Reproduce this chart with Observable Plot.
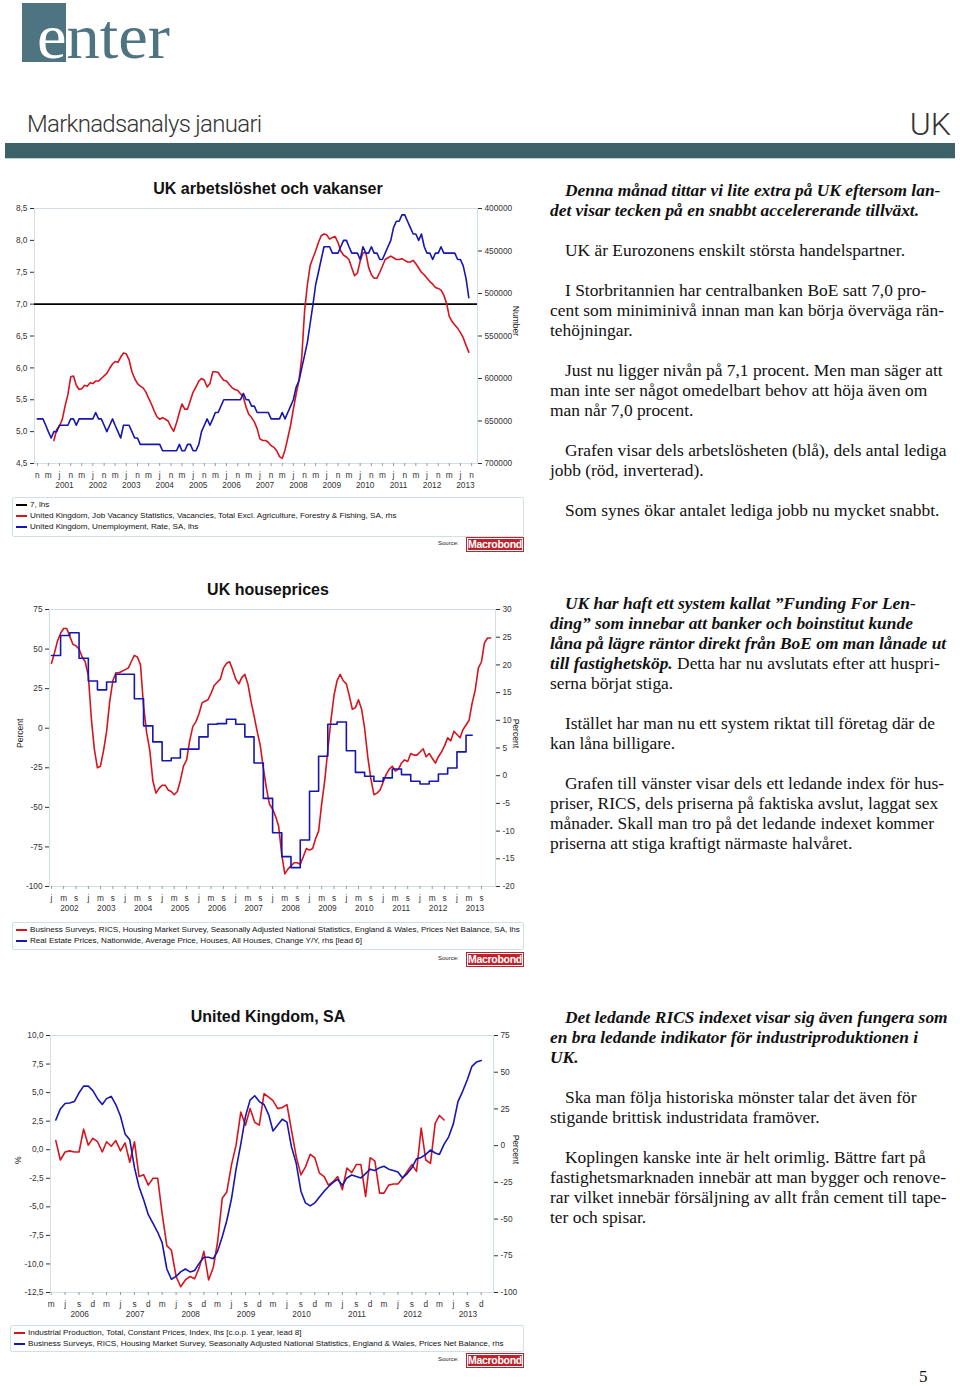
<!DOCTYPE html>
<html><head><meta charset="utf-8">
<script src="https://cdn.jsdelivr.net/npm/d3@7"></script>
<script src="https://cdn.jsdelivr.net/npm/@observablehq/plot@0.6"></script>
<style>
body{margin:0;width:960px;height:1386px;position:relative;background:#fff;overflow:hidden;font-family:Arial,"Liberation Sans",sans-serif;color:#111;}
.abs{position:absolute;}
.title{position:absolute;left:0;width:536px;text-align:center;font:bold 16px Arial,"Liberation Sans",sans-serif;color:#111;z-index:3;white-space:nowrap;}
.txt{position:absolute;left:550px;width:410px;font-family:"Liberation Serif","Times New Roman",serif;font-size:17.4px;line-height:20px;color:#111;white-space:nowrap;}
.txt p{margin:0 0 20px 0;text-indent:15px;}
.bi{font-weight:bold;font-style:italic;}
.leg{position:absolute;border:1px solid #cfe1e6;border-radius:2px;background:#fff;font-family:Arial,"Liberation Sans",sans-serif;font-size:8.1px;color:#111;}
.leg div{height:11px;line-height:11px;white-space:nowrap;padding-left:17px;position:relative;}
.leg div span{position:absolute;left:3px;top:5px;width:11px;height:2px;}
.src{position:absolute;font-size:6px;color:#222;font-family:Arial,"Liberation Sans",sans-serif;}
.mb{position:absolute;width:56px;height:13px;background:#c0222b;color:#fff;font-family:Arial,"Liberation Sans",sans-serif;font-weight:bold;font-size:10.5px;letter-spacing:-0.3px;line-height:13px;text-align:center;box-shadow:inset 0 0 0 1px #fff;outline:1px solid #c0222b;white-space:nowrap;}
.chart{position:absolute;left:0;}
</style></head><body>

<!-- header -->
<div class="abs" style="left:22px;top:3px;width:44px;height:59px;background:#4e7482;"></div>
<div class="abs" style="left:37px;top:1px;font-family:'Liberation Serif','Times New Roman',serif;font-size:64px;line-height:71px;transform:scaleX(1.04);transform-origin:left top;white-space:nowrap;"><span style="color:#fff">e</span><span style="color:#4e7482">nter</span></div>
<div class="abs" style="left:27px;top:112px;font-family:Roboto,'Liberation Sans',sans-serif;font-weight:300;font-size:24px;line-height:24px;color:#333;letter-spacing:-0.7px;white-space:nowrap;">Marknadsanalys januari</div>
<div class="abs" style="right:9px;top:108px;font-family:Roboto,'Liberation Sans',sans-serif;font-weight:300;font-size:32px;line-height:32px;color:#333;">UK</div>
<div class="abs" style="left:5px;top:143px;width:950px;height:15px;background:#3d6169;border-bottom:1px solid #b9d2d6;"></div>

<!-- chart titles -->
<div class="title" style="top:180px;">UK arbetslöshet och vakanser</div>
<div class="title" style="top:581px;">UK houseprices</div>
<div class="title" style="top:1008px;">United Kingdom, SA</div>

<div id="c1" class="chart" style="top:195px;"></div>
<div id="c2" class="chart" style="top:596px;"></div>
<div id="c3" class="chart" style="top:1022px;"></div>

<!-- legends -->
<div class="leg" style="left:12px;top:497px;width:510px;height:37px;padding-top:1px;">
  <div><span style="background:#000"></span>7, lhs</div>
  <div><span style="background:#d7141e"></span>United Kingdom, Job Vacancy Statistics, Vacancies, Total Excl. Agriculture, Forestry &amp; Fishing, SA, rhs</div>
  <div><span style="background:#1616b0"></span>United Kingdom, Unemployment, Rate, SA, lhs</div>
</div>
<div class="src" style="left:438px;top:540px;">Source:</div>
<div class="mb" style="left:467px;top:538px;">Macrobond</div>

<div class="leg" style="left:12px;top:922px;width:510px;height:25px;padding-top:1px;">
  <div><span style="background:#d7141e"></span>Business Surveys, RICS, Housing Market Survey, Seasonally Adjusted National Statistics, England &amp; Wales, Prices Net Balance, SA, lhs</div>
  <div><span style="background:#1616b0"></span>Real Estate Prices, Nationwide, Average Price, Houses, All Houses, Change Y/Y, rhs [lead 6]</div>
</div>
<div class="src" style="left:438px;top:955px;">Source:</div>
<div class="mb" style="left:467px;top:953px;">Macrobond</div>

<div class="leg" style="left:10px;top:1325px;width:512px;height:24px;padding-top:1px;">
  <div><span style="background:#d7141e"></span>Industrial Production, Total, Constant Prices, Index, lhs [c.o.p. 1 year, lead 8]</div>
  <div><span style="background:#1616b0"></span>Business Surveys, RICS, Housing Market Survey, Seasonally Adjusted National Statistics, England &amp; Wales, Prices Net Balance, rhs</div>
</div>
<div class="src" style="left:438px;top:1356px;">Source:</div>
<div class="mb" style="left:467px;top:1354px;">Macrobond</div>

<!-- text column -->
<div class="txt" style="top:180px;">
<p class="bi">Denna månad tittar vi lite extra på UK eftersom lan-<br>det visar tecken på en snabbt accelererande tillväxt.</p>
<p>UK är Eurozonens enskilt största handelspartner.</p>
<p>I Storbritannien har centralbanken BoE satt 7,0 pro-<br>cent som miniminivå innan man kan börja överväga rän-<br>tehöjningar.</p>
<p>Just nu ligger nivån på 7,1 procent. Men man säger att<br>man inte ser något omedelbart behov att höja även om<br>man når 7,0 procent.</p>
<p>Grafen visar dels arbetslösheten (blå), dels antal lediga<br>jobb (röd, inverterad).</p>
<p>Som synes ökar antalet lediga jobb nu mycket snabbt.</p>
</div>
<div class="txt" style="top:593px;">
<p><span class="bi">UK har haft ett system kallat ”Funding For Len-<br>ding” som innebar att banker och boinstitut kunde<br>låna på lägre räntor direkt från BoE om man lånade ut<br>till fastighetsköp.</span> Detta har nu avslutats efter att huspri-<br>serna börjat stiga.</p>
<p>Istället har man nu ett system riktat till företag där de<br>kan låna billigare.</p>
<p>Grafen till vänster visar dels ett ledande index för hus-<br>priser, RICS, dels priserna på faktiska avslut, laggat sex<br>månader. Skall man tro på det ledande indexet kommer<br>priserna att stiga kraftigt närmaste halvåret.</p>
</div>
<div class="txt" style="top:1007px;">
<p class="bi">Det ledande RICS indexet visar sig även fungera som<br>en bra ledande indikator för industriproduktionen i<br>UK.</p>
<p>Ska man följa historiska mönster talar det även för<br>stigande brittisk industridata framöver.</p>
<p>Koplingen kanske inte är helt orimlig. Bättre fart på<br>fastighetsmarknaden innebär att man bygger och renove-<br>rar vilket innebär försäljning av allt från cement till tape-<br>ter och spisar.</p>
</div>
<div class="abs" style="left:919px;top:1367px;font-family:'Liberation Serif',serif;font-size:17px;line-height:20px;">5</div>

<script>
// ---------- DATA ----------
const monthLetters = ["j","f","m","a","m","j","j","a","s","o","n","d"];

// Chart 1: UK unemployment rate (lhs, %), monthly from Nov 2000
const unempStart = [2000, 10];
const unempRate = [5.2,5.2,5.2,5.1,5.0,4.9,5.0,5.0,5.1,5.1,5.1,5.1,5.2,5.2,5.1,5.2,5.2,5.2,5.2,5.2,
 5.2,5.3,5.2,5.2,5.1,5.0,5.1,5.2,5.1,5.0,4.9,5.1,5.1,5.1,5.0,4.9,4.9,4.8,4.8,4.8,
 4.8,4.8,4.8,4.8,4.8,4.7,4.7,4.7,4.7,4.7,4.7,4.8,4.7,4.7,4.8,4.8,4.7,4.7,4.8,5.0,
 5.1,5.2,5.1,5.2,5.3,5.3,5.4,5.5,5.5,5.5,5.5,5.5,5.5,5.5,5.6,5.5,5.5,5.4,5.4,5.3,
 5.3,5.3,5.3,5.3,5.2,5.2,5.2,5.2,5.3,5.2,5.3,5.4,5.5,5.7,5.8,6.0,6.2,6.4,6.7,7.0,
 7.3,7.5,7.7,7.9,7.9,7.9,7.8,7.8,7.8,7.9,8.0,8.0,7.9,7.8,7.8,7.8,7.7,7.9,7.8,7.8,
 7.9,7.8,7.8,7.7,7.7,7.8,7.9,8.0,8.2,8.3,8.3,8.4,8.4,8.3,8.2,8.1,8.1,8.0,8.1,7.9,
 7.8,7.8,7.7,7.8,7.8,7.9,7.8,7.8,7.8,7.8,7.8,7.7,7.7,7.6,7.4,7.1];
// Chart 1: UK job vacancies (rhs, inverted, number), monthly from May 2001
const vacStart = [2001, 4];
const vacancies = [673e3,660e3,656e3,648e3,632e3,619e3,598e3,597e3,608e3,613e3,612e3,608e3,609e3,605e3,606e3,603e3,603e3,600e3,597e3,594e3,
 588e3,583e3,580e3,581e3,575e3,570e3,571e3,578e3,592e3,600e3,606e3,609e3,611e3,616e3,623e3,630e3,638e3,645e3,648e3,646e3,
 648e3,650e3,657e3,662e3,652e3,640e3,630e3,636e3,636e3,626e3,616e3,610e3,603e3,600e3,602e3,610e3,606e3,592e3,592e3,593e3,
 598e3,602e3,603e3,607e3,611e3,613e3,614e3,618e3,622e3,634e3,642e3,646e3,651e3,659e3,671e3,673e3,673e3,675e3,679e3,681e3,
 685e3,692e3,694e3,684e3,670e3,655e3,636e3,618e3,602e3,575e3,520e3,490e3,467e3,458e3,450e3,440e3,432e3,430e3,431e3,436e3,
 434e3,433e3,440e3,450e3,455e3,457e3,460e3,470e3,479e3,476e3,462e3,452e3,452e3,469e3,478e3,482e3,482e3,475e3,468e3,460e3,
 458e3,456e3,458e3,460e3,460e3,459e3,461e3,463e3,463e3,461e3,465e3,470e3,475e3,478e3,482e3,486e3,489e3,493e3,494e3,496e3,
 502e3,512e3,527e3,533e3,537e3,541e3,546e3,552e3,561e3,569e3];
const threshold = 7;
const c1LeftTicks = [4.5,5.0,5.5,6.0,6.5,7.0,7.5,8.0,8.5];
const c1RightTicks = [400000,450000,500000,550000,600000,650000,700000];
const c1Years = [2001,2002,2003,2004,2005,2006,2007,2008,2009,2010,2011,2012,2013];

// Chart 2: RICS prices net balance (lhs), monthly from Jan 2002
const ricsStart = [2002, 0];
const ricsBalance = [41,48,55,60,63,63,58,53,52,50,45,42,33,5,-13,-25,-24,-14,-2,17,
 30,35,35,36,37,38,42,46,45,40,14,-3,-14,-33,-41,-38,-36,-36,-39,-40,
 -42,-40,-33,-24,-20,-8,1,4,9,16,17,18,22,27,29,31,38,41,42,37,
 31,28,32,34,28,17,8,-2,-11,-25,-38,-48,-51,-56,-62,-80,-92,-89,-87,-85,
 -85,-86,-81,-76,-77,-76,-70,-65,-48,-33,-14,5,21,30,34,30,28,20,12,13,
 18,12,0,-18,-32,-42,-41,-39,-34,-29,-26,-24,-27,-26,-22,-20,-21,-16,-17,-17,
 -15,-13,-18,-16,-19,-22,-18,-15,-11,-6,-8,-2,-4,-6,-1,2,5,16,24,38,
 42,54,57,57];
// Chart 2: Nationwide house prices y/y % (rhs, lead 6), quarterly from Jan 2002, last to Jun 2013
const nwStart = [2002, 0];
const nwChange = [21.7,25.3,25.8,21.2,17.1,15.5,16.9,18.3,18.3,13.9,9.0,6.1,2.7,3.2,4.8,4.8,
 7.0,9.3,9.4,10.2,9.3,7.0,2.3,-4.1,-10.3,-14.6,-16.6,-11.6,-2.8,3.5,9.3,9.7,
 4.5,0.6,-0.1,-1.0,-0.4,1.2,0.2,-1.0,-1.5,-1.0,0.3,1.4,4.3,7.3];
const nwEnd = [2013, 5];
const c2LeftTicks = [-100,-75,-50,-25,0,25,50,75];
const c2RightTicks = [-20,-15,-10,-5,0,5,10,15,20,25,30];
const c2Years = [2002,2003,2004,2005,2006,2007,2008,2009,2010,2011,2012,2013];

// Chart 3: Industrial production y/y % (lhs, lead 8), monthly from Apr 2006
const ipStart = [2006, 3];
const ipChange = [0.8,-0.9,-0.2,-0.1,-0.2,-0.2,1.8,0.4,1.0,0.7,-0.2,0.7,0.3,0.8,-0.1,0.6,-1.1,0.7,-2.35,-2.2,
 -3.1,-2.5,-2.5,-5.6,-8.4,-8.8,-11.1,-12.0,-11.4,-11.1,-11.3,-10.3,-8.9,-11.4,-10.3,-8.1,-4.25,-3.7,-1.3,0.4,
 3.3,2.15,3.6,2.4,2.15,4.9,4.6,4.3,3.6,3.7,3.95,1.7,-0.6,-2.2,-1.5,-0.4,-0.7,-2.05,-2.35,-3.1,
 -2.8,-2.35,-3.5,-1.6,-2.0,-1.3,-1.3,-4.1,-0.7,-1.0,-3.8,-3.8,-3.1,-3.0,-3.0,-2.5,-1.9,-1.3,-1.9,1.9,
 -0.9,-1.2,2.3,3.0,2.6];
// Chart 3: RICS prices net balance (rhs), monthly from Apr 2006
const rics3Start = [2006, 3];
const rics3Balance = [17.5,25,28.7,29,30,36,40.5,40.5,37.5,32,28,32,33.5,28,20,8,4,-15,-28,-37,
 -47,-53,-59,-66,-84,-91,-89,-86,-84,-86,-85,-80,-76,-76,-77,-72,-62,-51,-36,-16,
 1,20,31,34,30,28,21,10,14,18,16,-1,-12,-31,-39,-41,-39,-35,-31,-28,
 -25,-23,-27,-22,-20,-21,-22,-19,-16,-17,-15,-14,-16,-17,-18,-22,-19,-15,-9,-8,
 -6,-3,-5,-6,1,6,15,30,37,45,54,57,58];
const c3LeftTicks = [-12.5,-10,-7.5,-5,-2.5,0,2.5,5,7.5,10];
const c3RightTicks = [-100,-75,-50,-25,0,25,50,75];
const c3Years = [2006,2007,2008,2009,2010,2011,2012,2013];

// ---------- helpers ----------
const RED = "#d7141e", BLUE = "#1616b0", FRAME = "#cfe1e6", AX = "#333";
const monthly = (start, vals) => vals.map((v, i) => ({date: new Date(start[0], start[1] + i, 1), value: v}));
const comma1 = d => d.toFixed(1).replace(".", ",");
const plain = d => String(d);
const baseStyle = {fontFamily: "Arial, 'Liberation Sans', sans-serif", fontSize: "8.3px", color: AX, background: "transparent", overflow: "visible"};

function xAxes(monthTicks, years, yearDay) {
  return [
    Plot.axisX(monthTicks, {anchor: "bottom", tickSize: 3, tickPadding: 6, label: null,
      tickFormat: d => monthLetters[d.getMonth()], stroke: "#999", fontSize: 8.3}),
    Plot.axisX(years.map(y => new Date(y, yearDay[0], yearDay[1])), {anchor: "bottom", tickSize: 0, tickPadding: 19, label: null,
      tickFormat: d => String(d.getFullYear()), fontSize: 8.3})
  ];
}

// ---------- Chart 1 ----------
const toL1 = n => 8.5 - (n - 400000) / 75000;
const fromL1 = v => Math.round(400000 + (8.5 - v) * 75000);
const unempData = monthly(unempStart, unempRate);
const vacData = monthly(vacStart, vacancies);
const c1MonthTicks = d3.range(0, 157, 4).map(i => new Date(2000, 10 + i, 1));
document.getElementById("c1").append(Plot.plot({
  width: 540, height: 300, marginLeft: 34, marginRight: 63, marginTop: 13, marginBottom: 32,
  style: baseStyle,
  x: {type: "time", domain: [new Date(2000, 9, 1), new Date(2014, 0, 4)], label: null},
  y: {domain: [4.5, 8.5], label: null},
  marks: [
    Plot.frame({stroke: FRAME}),
    Plot.axisY(c1LeftTicks, {anchor: "left", tickSize: 4, tickPadding: 3, tickFormat: comma1, label: null}),
    Plot.axisY(c1RightTicks.map(toL1), {anchor: "right", tickSize: 4, tickPadding: 3, tickFormat: d => String(fromL1(d)), label: null}),
    ...xAxes(c1MonthTicks, c1Years, [7, 25]),
    Plot.text(["Number"], {frameAnchor: "right", dx: 38, rotate: 90, fontSize: 8.5, fill: "#222"}),
    Plot.ruleY([threshold], {stroke: "#000", strokeWidth: 1.6}),
    Plot.line(vacData, {x: "date", y: d => toL1(d.value), stroke: RED, strokeWidth: 1.6}),
    Plot.line(unempData, {x: "date", y: "value", stroke: BLUE, strokeWidth: 1.6})
  ]
}));

// ---------- Chart 2 ----------
const toL2 = r => -100 + (r + 20) * 3.5;
const fromL2 = v => Math.round((v + 100) / 3.5 - 20);
const ricsData = monthly(ricsStart, ricsBalance);
const nwData = nwChange.map((v, i) => ({date: new Date(nwStart[0], nwStart[1] + 3 * i, 1), value: v}));
nwData.push({date: new Date(nwEnd[0], nwEnd[1], 1), value: nwChange[nwChange.length - 1]});
const c2MonthTicks = d3.range(0, 141, 4).map(i => new Date(2002, i, 1));
document.getElementById("c2").append(Plot.plot({
  width: 540, height: 322, marginLeft: 49, marginRight: 45, marginTop: 13, marginBottom: 32,
  style: baseStyle,
  x: {type: "time", domain: [new Date(2001, 11, 12), new Date(2014, 0, 18)], label: null},
  y: {domain: [-100, 75], label: null},
  marks: [
    Plot.frame({stroke: FRAME}),
    Plot.axisY(c2LeftTicks, {anchor: "left", tickSize: 4, tickPadding: 3, tickFormat: plain, label: null}),
    Plot.axisY(c2RightTicks.map(toL2), {anchor: "right", tickSize: 4, tickPadding: 3, tickFormat: d => String(fromL2(d)), label: null}),
    ...xAxes(c2MonthTicks, c2Years, [5, 28]),
    Plot.text(["Percent"], {frameAnchor: "left", dx: -29, rotate: -90, fontSize: 8.5, fill: "#222"}),
    Plot.text(["Percent"], {frameAnchor: "right", dx: 20, rotate: 90, fontSize: 8.5, fill: "#222"}),
    Plot.line(ricsData, {x: "date", y: "value", stroke: RED, strokeWidth: 1.6}),
    Plot.line(nwData, {x: "date", y: d => toL2(d.value), stroke: BLUE, strokeWidth: 1.6, curve: "step-after"})
  ]
}));

// ---------- Chart 3 ----------
const toL3 = r => -12.5 + (r + 100) / 175 * 22.5;
const fromL3 = v => Math.round((v + 12.5) / 22.5 * 175 - 100);
const ipData = monthly(ipStart, ipChange);
const rics3Data = monthly(rics3Start, rics3Balance);
const c3MonthTicks = d3.range(0, 94, 3).map(i => new Date(2006, 2 + i, 1));
document.getElementById("c3").append(Plot.plot({
  width: 540, height: 302, marginLeft: 50, marginRight: 47, marginTop: 13, marginBottom: 32,
  style: baseStyle,
  x: {type: "time", domain: [new Date(2006, 1, 25), new Date(2014, 1, 20)], label: null},
  y: {domain: [-12.5, 10], label: null},
  marks: [
    Plot.frame({stroke: FRAME}),
    Plot.axisY(c3LeftTicks, {anchor: "left", tickSize: 4, tickPadding: 3, tickFormat: comma1, label: null}),
    Plot.axisY(c3RightTicks.map(toL3), {anchor: "right", tickSize: 4, tickPadding: 3, tickFormat: d => String(fromL3(d)), label: null}),
    ...xAxes(c3MonthTicks, c3Years, [8, 5]),
    Plot.text(["%"], {frameAnchor: "left", dx: -32, rotate: -90, fontSize: 8.5, fill: "#222"}),
    Plot.text(["Percent"], {frameAnchor: "right", dx: 22, rotate: 90, fontSize: 8.5, fill: "#222"}),
    Plot.line(ipData, {x: "date", y: "value", stroke: RED, strokeWidth: 1.6}),
    Plot.line(rics3Data, {x: "date", y: d => toL3(d.value), stroke: BLUE, strokeWidth: 1.6})
  ]
}));
</script>
</body></html>
